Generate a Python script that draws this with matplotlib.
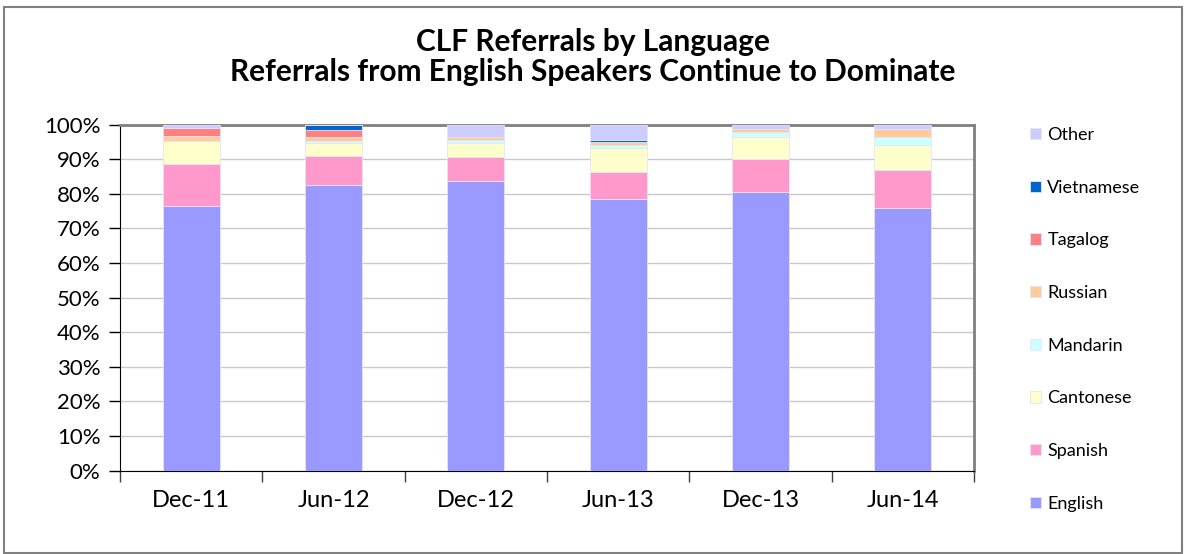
import numpy as np
import matplotlib.pyplot as plt
from matplotlib.patches import Rectangle

plt.rcParams['font.family'] = ['Lato', 'DejaVu Sans']

periods = ['Dec-11', 'Jun-12', 'Dec-12', 'Jun-13', 'Dec-13', 'Jun-14']
languages = ['English', 'Spanish', 'Cantonese', 'Mandarin', 'Russian', 'Tagalog', 'Vietnamese', 'Other']

# percent of referrals
english    = [76.6, 82.6, 83.7, 78.5, 80.4, 75.8]
spanish    = [12.1,  8.2,  6.9,  7.7,  9.7, 11.0]
cantonese  = [ 6.5,  3.9,  4.2,  7.0,  6.4,  7.3]
mandarin   = [ 0.0,  0.7,  0.9,  0.9,  1.4,  2.3]
russian    = [ 1.5,  0.9,  0.8,  0.9,  0.7,  2.2]
tagalog    = [ 2.4,  2.1,  0.0,  0.0,  0.0,  0.0]
vietnamese = [ 0.0,  1.6,  0.0,  0.7,  0.0,  0.0]
other      = [ 0.9,  0.0,  3.5,  4.3,  1.4,  1.4]

series = [english, spanish, cantonese, mandarin, russian, tagalog, vietnamese, other]
colors = ['#9999FF', '#FF99CC', '#FFFFCC', '#CCFFFF', '#FFCC99', '#FF8080', '#0066CC', '#CCCCFF']

fig = plt.figure(figsize=(11.86, 5.54), dpi=100)
ax = fig.add_axes([0.1012, 0.1504, 0.72, 0.6246])

x = np.arange(len(periods))
bottom = np.zeros(len(periods))
handles = []
for vals, col, name in zip(series, colors, languages):
    b = ax.bar(x, vals, 0.4, bottom=bottom, color=col, edgecolor='#E4E4F8',
               linewidth=0.6, label=name, zorder=3)
    handles.append(b)
    bottom += np.array(vals)

ax.set_xlim(-0.5, len(periods) - 0.5)
ax.set_ylim(0, 100)
ax.set_yticks(np.arange(0, 101, 10))
ax.set_yticklabels([f'{v}%' for v in range(0, 101, 10)], fontsize=16)
ax.set_xticks(x)
ax.set_xticklabels(periods, fontsize=17)
ax.tick_params(axis='x', length=0, pad=14)
ax.set_xticks(np.arange(-0.5, len(periods)), minor=True)
ax.tick_params(axis='x', which='minor', length=8, width=1, color='#404040')
ax.tick_params(axis='y', direction='out', length=8, width=1, color='black', pad=6)
ax.yaxis.grid(True, color='#C8C8C8', linewidth=1, zorder=0)

ax.spines['left'].set_color('black')
ax.spines['bottom'].set_color('black')
ax.spines['top'].set_color('#808080')
ax.spines['right'].set_color('#808080')
ax.spines['top'].set_linewidth(2)
ax.spines['right'].set_linewidth(2)

fig.suptitle('CLF Referrals by Language\nReferrals from English Speakers Continue to Dominate',
             x=0.5, y=0.897, va='center', fontsize=21.5, fontweight='bold', linespacing=1.05)

leg = fig.legend(handles[::-1], languages[::-1], loc='upper left',
                 bbox_to_anchor=(0.855, 0.8), frameon=False, fontsize=13,
                 handlelength=0.6, handleheight=0.6, handletextpad=0.35,
                 labelspacing=2.03)

fig.patches.append(Rectangle((0.003, 0.002), 0.994, 0.985, transform=fig.transFigure,
                             fill=False, edgecolor='#808080', linewidth=1.5))

fig.savefig('out.png', dpi=100)
